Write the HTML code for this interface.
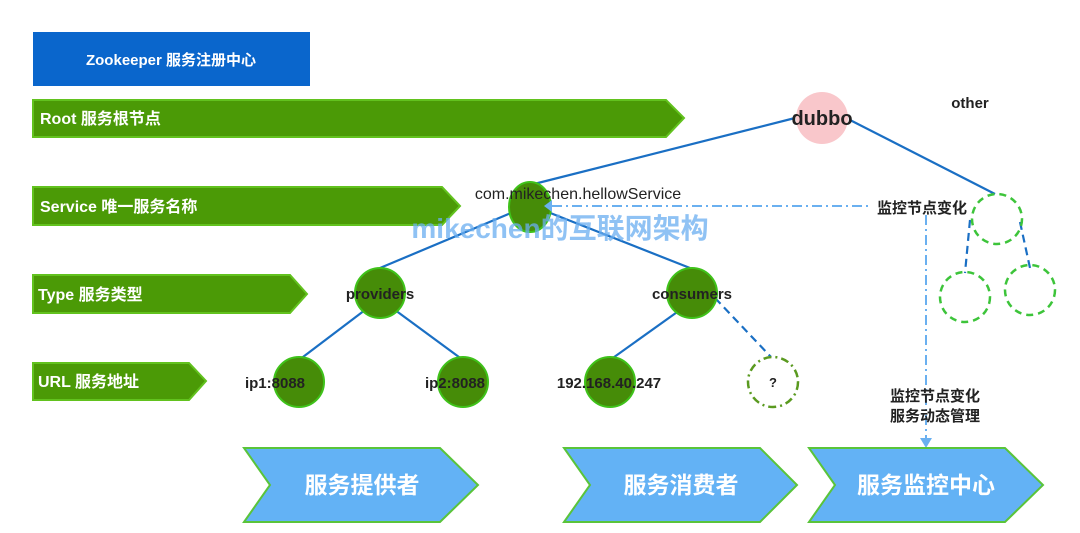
<!DOCTYPE html>
<html><head><meta charset="utf-8"><style>
body{margin:0;background:#fff;}
svg{display:block;font-family:"Liberation Sans","Noto Sans CJK SC",sans-serif;}
</style></head><body>
<svg width="1080" height="533" viewBox="0 0 1080 533">
<rect x="33" y="32" width="277" height="54" fill="#0a66cc"/>
<text x="171" y="65" fill="#fff" font-size="15" font-weight="bold" text-anchor="middle">Zookeeper 服务注册中心</text>
<g fill="#4b9a06" stroke="#62c21e" stroke-width="2">
<polygon points="33,100 666,100 684,118 666,137 33,137"/>
<polygon points="33,187 442,187 460,206 442,225 33,225"/>
<polygon points="33,275 290,275 307,294 290,313 33,313"/>
<polygon points="33,363 189,363 206,381 189,400 33,400"/>
</g>
<g fill="#fff" font-size="16" font-weight="bold">
<text x="40" y="124">Root 服务根节点</text>
<text x="40" y="212">Service 唯一服务名称</text>
<text x="38" y="300">Type 服务类型</text>
<text x="38" y="387">URL 服务地址</text>
</g>
<g stroke="#1a6fc4" stroke-width="2.2" fill="none">
<line x1="530" y1="185" x2="795" y2="118"/>
<line x1="850" y1="120" x2="995" y2="194"/>
<line x1="530" y1="205" x2="380" y2="268"/>
<line x1="530" y1="205" x2="690" y2="268"/>
<line x1="365" y1="310" x2="299" y2="360"/>
<line x1="395" y1="310" x2="463" y2="360"/>
<line x1="680" y1="310" x2="610" y2="360"/>
<line x1="715" y1="298" x2="771" y2="357" stroke-dasharray="8,5"/>
<line x1="970" y1="220" x2="965" y2="273" stroke-dasharray="8,5"/>
<line x1="1020" y1="222" x2="1030" y2="268" stroke-dasharray="8,5"/>
</g>
<circle cx="822" cy="118" r="26" fill="#f9c7cb"/>
<g fill="#468c08" stroke="#3fc21a" stroke-width="2">
<ellipse cx="530" cy="207" rx="21" ry="25"/>
<ellipse cx="380" cy="293" rx="25" ry="25"/>
<ellipse cx="692" cy="293" rx="25" ry="25"/>
<ellipse cx="299" cy="382" rx="25" ry="25"/>
<ellipse cx="463" cy="382" rx="25" ry="25"/>
<ellipse cx="610" cy="382" rx="25" ry="25"/>
</g>
<circle cx="773" cy="382" r="25" fill="none" stroke="#5a9a20" stroke-width="2.5" stroke-dasharray="8,4,2,4"/>
<g fill="none" stroke="#3dc43a" stroke-width="2.5" stroke-dasharray="7,5">
<circle cx="997" cy="219" r="25"/>
<circle cx="965" cy="297" r="25"/>
<circle cx="1030" cy="290" r="25"/>
</g>
<g stroke="#6ab0f0" stroke-width="2" fill="none" stroke-dasharray="10,4,2,4">
<line x1="552" y1="206" x2="870" y2="206"/>
<line x1="926" y1="215" x2="926" y2="440"/>
</g>
<polygon points="920,438 932,438 926,448" fill="#6ab0f0"/>
<polygon points="552,200 552,212 544,206" fill="#6ab0f0"/>
<text x="560" y="238" font-size="28" font-weight="bold" fill="#6aaef0" fill-opacity="0.75" text-anchor="middle">mikechen的互联网架构</text>
<g fill="#222" font-size="15" font-weight="bold" text-anchor="middle">
<text x="822" y="125" font-size="20">dubbo</text>
<text x="970" y="108">other</text>
<text x="578" y="199" font-size="16" font-weight="normal">com.mikechen.hellowService</text>
<text x="380" y="299">providers</text>
<text x="692" y="299">consumers</text>
<text x="275" y="388">ip1:8088</text>
<text x="455" y="388">ip2:8088</text>
<text x="609" y="388">192.168.40.247</text>
<text x="773" y="387" font-size="13">?</text>
<text x="922" y="213">监控节点变化</text>
<text x="935" y="401">监控节点变化</text>
<text x="935" y="421">服务动态管理</text>
</g>
<g fill="#63b2f5" stroke="#5ac43a" stroke-width="2">
<polygon points="244,448 440,448 478,485 440,522 244,522 270,485"/>
<polygon points="564,448 760,448 797,485 760,522 564,522 590,485"/>
<polygon points="809,448 1005,448 1043,485 1005,522 809,522 835,485"/>
</g>
<g fill="#fff" font-size="23" font-weight="bold" text-anchor="middle">
<text x="362" y="493">服务提供者</text>
<text x="681" y="493">服务消费者</text>
<text x="926" y="493">服务监控中心</text>
</g>
</svg>
</body></html>
